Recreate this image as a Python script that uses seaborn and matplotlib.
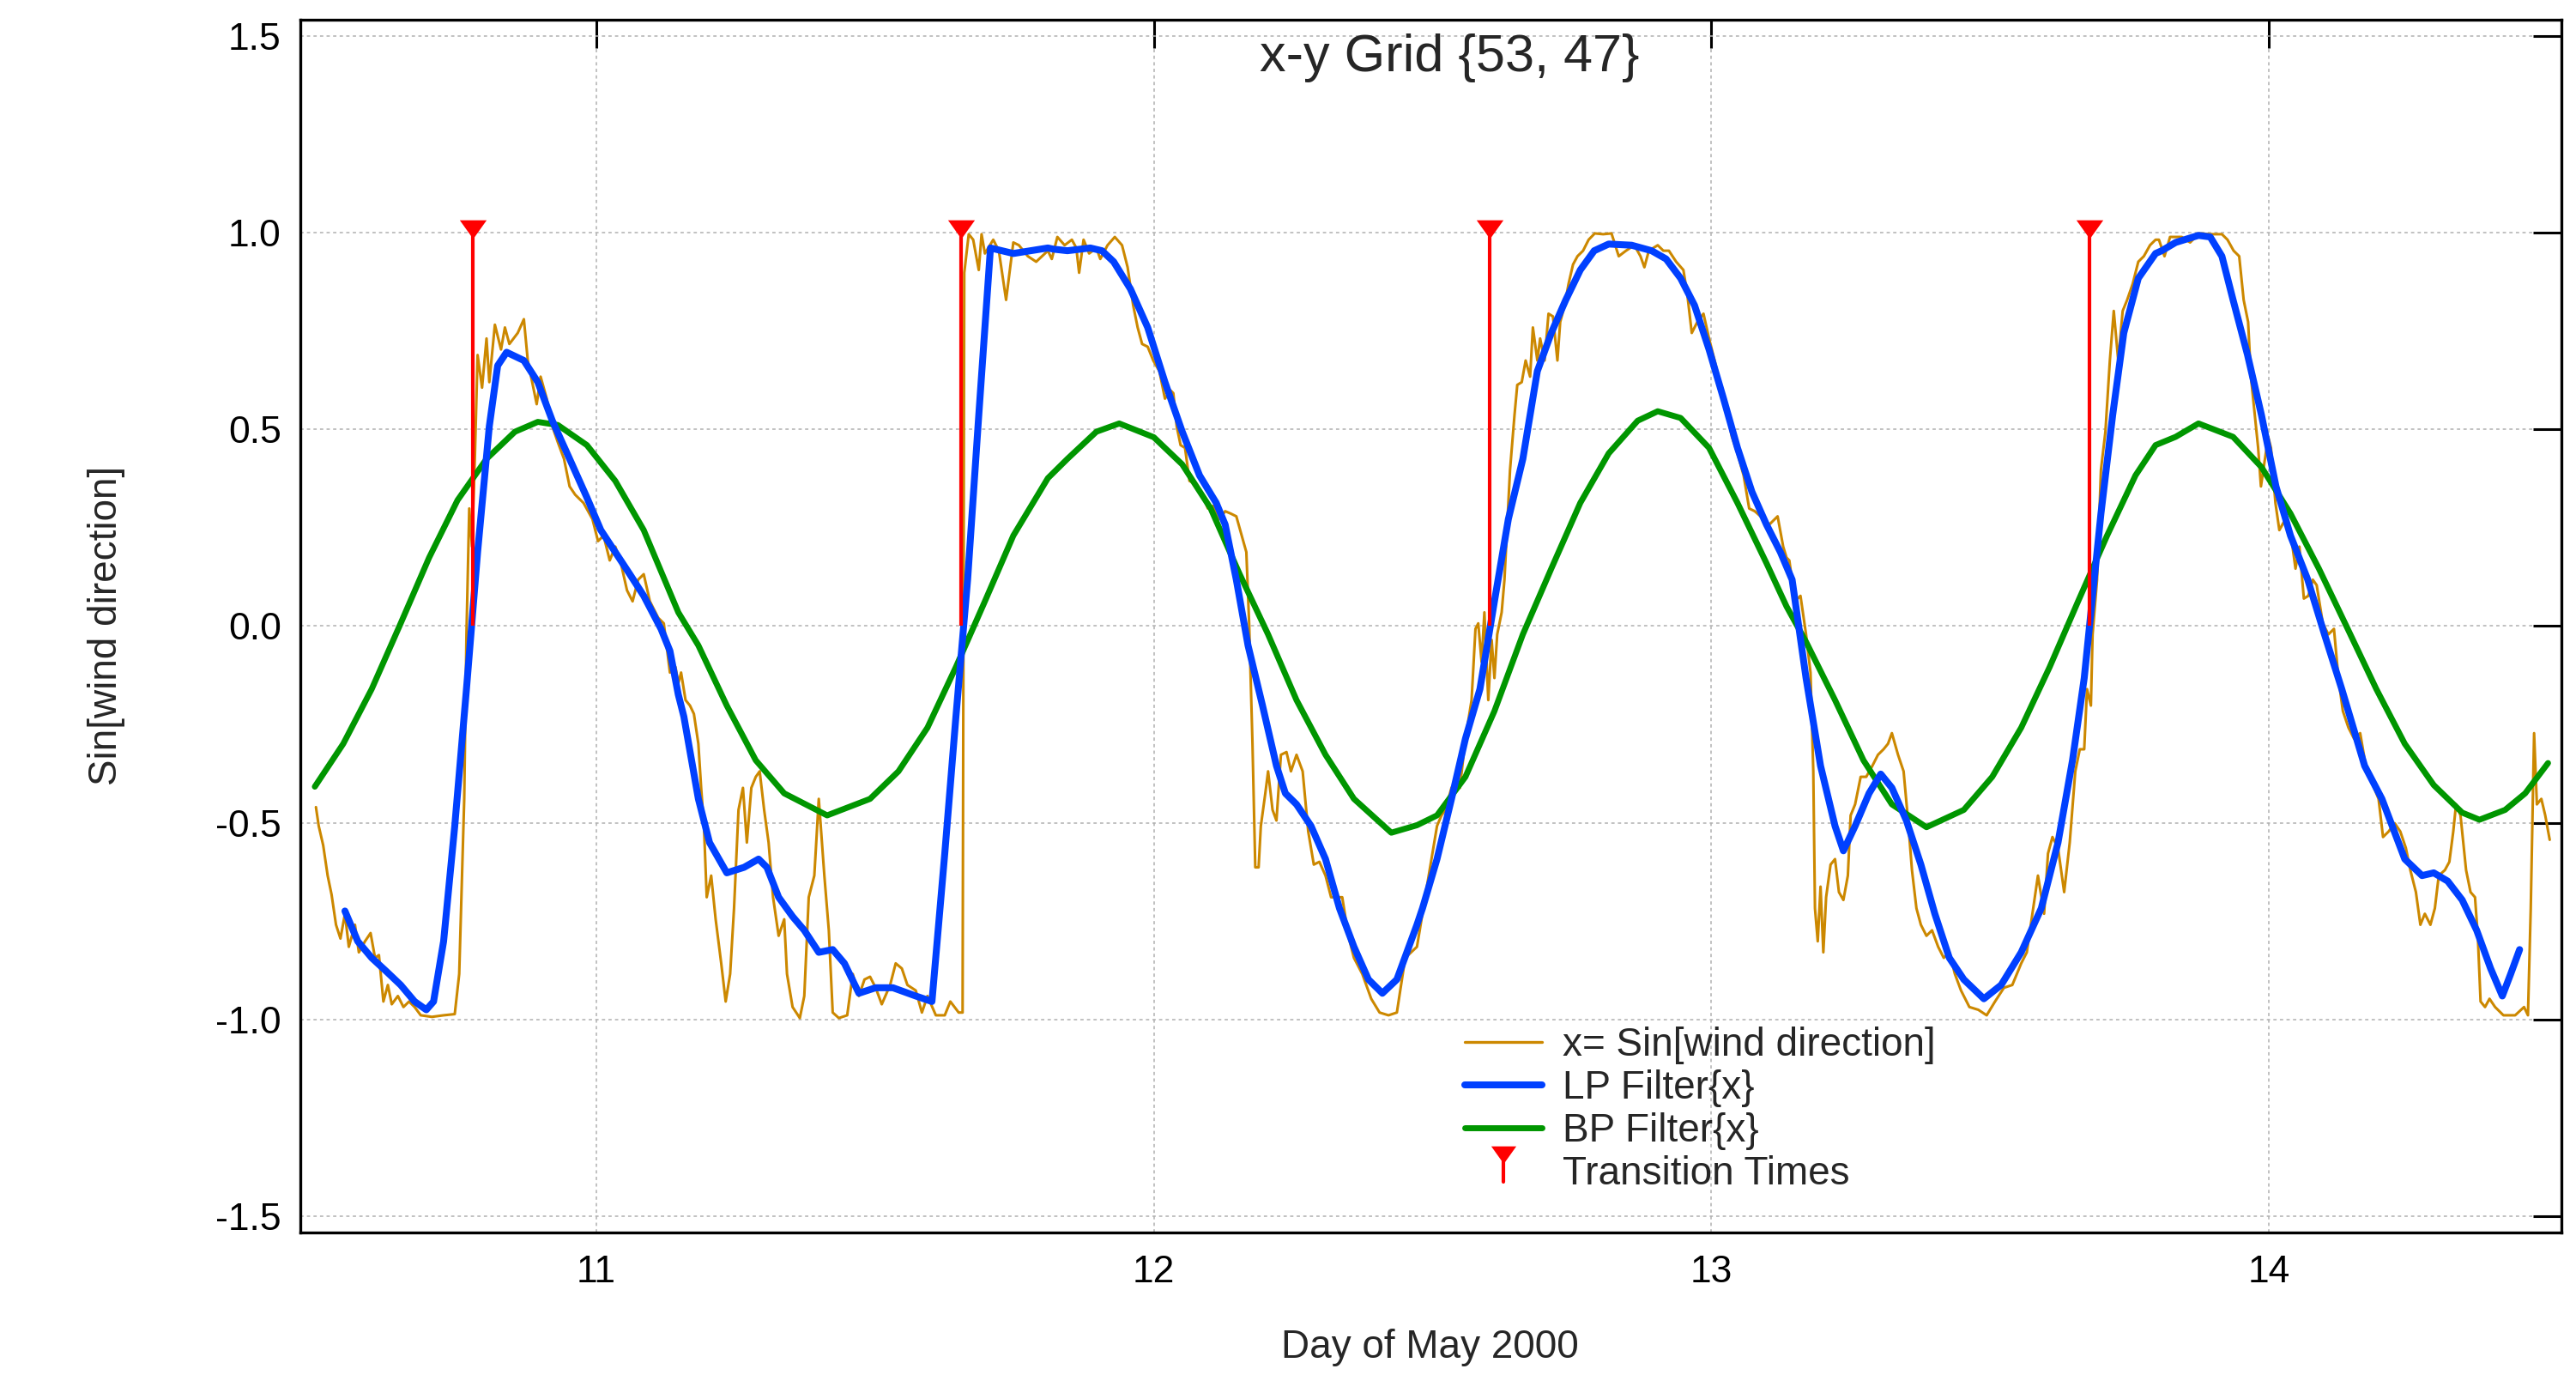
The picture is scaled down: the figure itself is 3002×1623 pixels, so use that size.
import matplotlib
matplotlib.use("Agg")
import matplotlib.pyplot as plt
import seaborn as sns
import numpy as np
import pandas as pd
from matplotlib.lines import Line2D
from matplotlib.legend_handler import HandlerBase

# ---------------- data ----------------
wind_x_points = [
    (10.497,-0.460),(10.502,-0.508),(10.510,-0.557),(10.518,-0.634),(10.525,-0.682),(10.533,-0.759),
    (10.541,-0.794),(10.549,-0.731),(10.556,-0.815),(10.567,-0.759),(10.574,-0.829),(10.585,-0.801),
    (10.595,-0.780),(10.603,-0.843),(10.610,-0.836),(10.618,-0.954),(10.626,-0.912),(10.633,-0.961),
    (10.644,-0.940),(10.654,-0.968),(10.664,-0.954),(10.674,-0.968),(10.685,-0.989),(10.705,-0.993),
    (10.726,-0.989),(10.746,-0.986),(10.754,-0.884),(10.759,-0.634),(10.763,-0.439),(10.767,-0.021),
    (10.772,0.299),(10.777,0.202),(10.782,0.425),(10.787,0.689),(10.795,0.606),(10.803,0.731),
    (10.808,0.620),(10.818,0.766),(10.829,0.703),(10.836,0.759),(10.844,0.717),(10.859,0.745),
    (10.870,0.780),(10.877,0.675),(10.885,0.620),(10.893,0.564),(10.900,0.634),(10.911,0.578),
    (10.921,0.508),(10.931,0.467),(10.942,0.425),(10.952,0.355),(10.962,0.334),(10.977,0.313),
    (10.993,0.272),(11.003,0.216),(11.013,0.230),(11.024,0.167),(11.034,0.202),(11.044,0.160),
    (11.055,0.091),(11.065,0.063),(11.075,0.118),(11.085,0.132),(11.096,0.063),(11.111,0.021),
    (11.121,0.007),(11.132,-0.118),(11.142,-0.104),(11.147,-0.146),
    (11.152,-0.118),(11.160,-0.188),(11.168,-0.202),(11.175,-0.223),(11.183,-0.299),(11.188,-0.411),
    (11.193,-0.508),(11.198,-0.689),(11.206,-0.634),(11.214,-0.745),(11.224,-0.857),(11.232,-0.954),
    (11.240,-0.884),(11.247,-0.717),(11.255,-0.467),(11.263,-0.411),(11.270,-0.550),(11.278,-0.411),
    (11.286,-0.383),(11.293,-0.369),(11.301,-0.467),(11.309,-0.550),(11.317,-0.689),(11.327,-0.787),
    (11.337,-0.745),(11.342,-0.884),(11.352,-0.968),(11.365,-0.996),(11.373,-0.940),(11.381,-0.689),
    (11.391,-0.634),(11.399,-0.439),(11.409,-0.634),(11.417,-0.773),(11.424,-0.982),(11.435,-0.996),
    (11.450,-0.989),(11.460,-0.884),(11.471,-0.940),(11.481,-0.898),(11.491,-0.891),(11.501,-0.919),
    (11.512,-0.961),(11.527,-0.912),(11.537,-0.857),(11.548,-0.870),(11.558,-0.912),(11.573,-0.926),
    (11.584,-0.982),(11.594,-0.940),(11.609,-0.989),(11.625,-0.989),(11.635,-0.954),(11.650,-0.982),
    (11.657,-0.982),(11.660,0.898),(11.668,0.996),(11.676,0.982),(11.686,0.905),(11.691,0.996),
    (11.697,0.947),(11.712,0.982),(11.722,0.954),(11.735,0.829),(11.748,0.975),(11.758,0.968),
    (11.774,0.940),(11.789,0.926),(11.810,0.954),
    (11.817,0.933),(11.827,0.989),(11.840,0.968),(11.853,0.982),(11.861,0.961),(11.866,0.898),
    (11.874,0.982),(11.884,0.947),(11.897,0.961),(11.904,0.933),(11.917,0.968),(11.930,0.989),
    (11.943,0.968),(11.953,0.912),(11.963,0.815),(11.971,0.759),(11.979,0.717),(11.989,0.710),
    (11.999,0.675),(12.010,0.648),(12.020,0.578),(12.030,0.599),(12.035,0.592),(12.041,0.508),
    (12.048,0.460),(12.056,0.453),(12.064,0.369),(12.074,0.362),(12.087,0.334),(12.097,0.299),
    (12.107,0.306),(12.118,0.272),(12.128,0.292),(12.138,0.286),(12.148,0.279),(12.159,0.223),
    (12.166,0.188),(12.171,0.007),(12.177,-0.299),(12.182,-0.613),(12.188,-0.613),(12.192,-0.508),
    (12.200,-0.425),(12.205,-0.369),(12.213,-0.467),(12.220,-0.494),(12.228,-0.327),(12.238,-0.320),
    (12.246,-0.369),(12.256,-0.327),(12.267,-0.369),(12.277,-0.522),(12.287,-0.606),(12.297,-0.599),
    (12.308,-0.634),(12.318,-0.689),(12.328,-0.689),(12.338,-0.689),(12.349,-0.787),(12.359,-0.843),
    (12.374,-0.884),(12.390,-0.947),(12.405,-0.982),(12.421,-0.989),(12.436,-0.982),(12.451,-0.843),
    (12.472,-0.815),
    (12.477,-0.773),(12.485,-0.703),(12.498,-0.592),(12.508,-0.508),(12.516,-0.481),(12.523,-0.467),
    (12.534,-0.411),(12.541,-0.397),(12.549,-0.411),(12.559,-0.286),(12.570,-0.188),(12.577,-0.007),
    (12.582,0.007),(12.588,-0.091),(12.593,0.035),(12.600,-0.188),(12.606,-0.035),(12.611,-0.132),
    (12.616,-0.021),(12.624,0.035),(12.629,0.118),(12.634,0.258),(12.639,0.397),(12.647,0.536),
    (12.652,0.613),(12.660,0.620),(12.667,0.675),(12.675,0.634),(12.680,0.759),(12.688,0.675),
    (12.693,0.731),(12.701,0.675),(12.708,0.794),(12.716,0.787),(12.724,0.675),(12.729,0.773),
    (12.737,0.815),(12.744,0.870),(12.752,0.919),(12.760,0.940),(12.770,0.954),(12.780,0.982),
    (12.791,0.998),(12.806,0.996),(12.821,0.998),(12.834,0.940),(12.847,0.954),(12.862,0.968),
    (12.873,0.940),(12.880,0.912),(12.888,0.954),(12.904,0.968),(12.914,0.954),(12.924,0.954),
    (12.937,0.926),(12.950,0.905),(12.957,0.843),(12.965,0.745),(12.975,0.773),(12.986,0.794),
    (12.996,0.731),(13.006,0.675),(13.017,0.606),(13.027,0.550),(13.037,0.481),(13.047,0.439),
    (13.058,0.383),(13.068,0.299),(13.078,0.292),(13.094,0.272),(13.104,0.258),(13.119,0.279),
    (13.129,0.202),(13.135,0.174),
    (13.140,0.167),(13.150,0.063),(13.160,0.077),(13.170,-0.021),(13.178,-0.118),(13.183,-0.369),
    (13.186,-0.717),(13.191,-0.801),(13.196,-0.662),(13.201,-0.829),(13.206,-0.689),(13.214,-0.606),
    (13.222,-0.592),(13.229,-0.676),(13.237,-0.696),(13.245,-0.634),(13.250,-0.481),(13.258,-0.453),
    (13.268,-0.383),(13.278,-0.383),(13.289,-0.355),(13.299,-0.327),(13.309,-0.313),(13.317,-0.299),
    (13.324,-0.272),(13.335,-0.327),(13.345,-0.369),(13.353,-0.494),(13.360,-0.620),(13.368,-0.717),
    (13.376,-0.759),(13.386,-0.787),(13.396,-0.773),(13.407,-0.815),(13.417,-0.843),(13.427,-0.829),
    (13.437,-0.884),(13.448,-0.926),(13.463,-0.968),(13.479,-0.975),(13.494,-0.989),(13.509,-0.954),
    (13.525,-0.919),(13.540,-0.912),(13.556,-0.857),(13.566,-0.829),(13.576,-0.731),(13.586,-0.634),
    (13.597,-0.731),(13.604,-0.578),(13.612,-0.536),(13.622,-0.564),(13.633,-0.676),(13.643,-0.550),
    (13.653,-0.369),(13.661,-0.313),(13.669,-0.313),(13.674,-0.160),(13.681,-0.202),(13.684,-0.021),
    (13.692,0.118),(13.699,0.397),(13.707,0.494),(13.715,0.675),(13.722,0.801),(13.730,0.675),
    (13.738,0.801),(13.746,0.829),(13.756,0.870),(13.766,0.926),(13.776,0.940),(13.787,0.968),
    (13.797,0.982),
    (13.803,0.982),(13.813,0.940),(13.823,0.989),(13.844,0.989),(13.859,0.975),(13.875,0.998),
    (13.895,0.996),(13.916,0.996),(13.926,0.982),(13.937,0.954),(13.947,0.940),(13.955,0.829),
    (13.963,0.773),(13.968,0.634),(13.973,0.564),(13.981,0.453),(13.986,0.355),(13.991,0.404),
    (13.999,0.481),(14.004,0.453),(14.012,0.313),(14.019,0.244),(14.030,0.272),(14.040,0.230),
    (14.048,0.146),(14.055,0.202),(14.063,0.070),(14.071,0.077),(14.079,0.118),(14.086,0.104),
    (14.097,0.007),(14.107,-0.021),(14.117,-0.007),(14.125,-0.132),(14.133,-0.216),(14.143,-0.258),
    (14.153,-0.286),(14.164,-0.272),(14.174,-0.355),(14.189,-0.411),(14.197,-0.439),(14.205,-0.536),
    (14.215,-0.522),(14.226,-0.501),(14.236,-0.522),(14.246,-0.564),(14.254,-0.620),(14.264,-0.676),
    (14.272,-0.759),(14.280,-0.731),(14.290,-0.759),(14.298,-0.717),(14.305,-0.634),(14.316,-0.620),
    (14.324,-0.599),(14.331,-0.522),(14.336,-0.453),(14.344,-0.481),(14.354,-0.620),(14.362,-0.676),
    (14.370,-0.689),(14.375,-0.787),(14.380,-0.954),(14.388,-0.968),(14.396,-0.947),(14.406,-0.968),
    (14.421,-0.989),(14.442,-0.989),(14.458,-0.968),(14.465,-0.989),(14.470,-0.717),(14.476,-0.272),
    (14.481,-0.453),(14.489,-0.439),(14.496,-0.481),(14.504,-0.543),
]

lp_filter_points = [
    (10.549,-0.724),(10.572,-0.801),(10.597,-0.843),(10.623,-0.877),(10.649,-0.912),(10.674,-0.954),
    (10.695,-0.975),(10.708,-0.954),(10.726,-0.801),(10.746,-0.508),(10.767,-0.160),(10.787,0.188),
    (10.808,0.508),(10.823,0.662),(10.839,0.696),(10.870,0.675),(10.895,0.620),(10.921,0.522),
    (10.952,0.425),(10.983,0.327),(11.008,0.244),(11.034,0.188),(11.060,0.132),(11.085,0.077),
    (11.116,-0.007),(11.132,-0.063),(11.147,-0.174),
    (11.157,-0.230),(11.183,-0.439),(11.203,-0.550),(11.234,-0.627),(11.265,-0.613),(11.291,-0.592),
    (11.306,-0.613),(11.327,-0.689),(11.352,-0.738),(11.373,-0.773),(11.399,-0.829),(11.424,-0.822),
    (11.445,-0.857),(11.471,-0.933),(11.501,-0.919),(11.532,-0.919),(11.573,-0.940),(11.602,-0.954),
    (11.625,-0.578),(11.645,-0.230),(11.666,0.118),(11.686,0.536),(11.707,0.961),(11.748,0.947),
    (11.810,0.961),
    (11.820,0.958),(11.845,0.954),(11.886,0.961),(11.907,0.954),(11.928,0.926),(11.958,0.857),
    (11.989,0.759),(12.020,0.620),(12.051,0.494),(12.082,0.383),(12.112,0.313),(12.128,0.258),
    (12.148,0.118),(12.169,-0.049),(12.195,-0.202),(12.220,-0.355),(12.236,-0.425),(12.256,-0.453),
    (12.282,-0.508),(12.308,-0.592),(12.333,-0.717),(12.359,-0.815),(12.385,-0.898),(12.410,-0.933),
    (12.436,-0.898),(12.472,-0.759),
    (12.482,-0.717),(12.508,-0.592),(12.534,-0.439),(12.559,-0.286),(12.585,-0.160),(12.611,0.063),
    (12.636,0.272),(12.662,0.425),(12.688,0.648),(12.713,0.745),(12.739,0.829),(12.765,0.905),
    (12.790,0.954),(12.816,0.971),(12.857,0.968),(12.893,0.954),(12.919,0.933),(12.945,0.884),
    (12.970,0.815),(12.996,0.703),(13.022,0.578),(13.047,0.453),(13.073,0.341),(13.099,0.258),
    (13.124,0.188),
    (13.145,0.118),(13.170,-0.132),(13.196,-0.355),(13.222,-0.508),(13.237,-0.571),(13.258,-0.508),
    (13.283,-0.425),(13.304,-0.376),(13.324,-0.411),(13.350,-0.494),(13.376,-0.606),(13.401,-0.731),
    (13.427,-0.843),(13.453,-0.898),(13.489,-0.947),(13.520,-0.912),(13.556,-0.829),(13.592,-0.717),
    (13.622,-0.550),(13.648,-0.341),(13.669,-0.132),(13.684,0.077),(13.699,0.286),(13.720,0.536),
    (13.740,0.745),(13.766,0.884),(13.797,0.947),
    (13.808,0.954),(13.833,0.975),(13.874,0.993),(13.895,0.989),(13.916,0.940),(13.936,0.829),
    (13.962,0.689),(13.987,0.536),(14.013,0.355),(14.039,0.230),(14.070,0.118),(14.100,-0.021),
    (14.131,-0.160),(14.172,-0.355),(14.203,-0.439),(14.244,-0.592),(14.275,-0.634),(14.296,-0.627),
    (14.321,-0.648),(14.347,-0.696),(14.373,-0.773),(14.398,-0.870),(14.419,-0.940),(14.434,-0.884),
    (14.450,-0.822),
]

bp_filter_points = [
    (10.495,-0.408),(10.546,-0.299),(10.597,-0.160),(10.649,0.007),(10.700,0.174),(10.751,0.320),
    (10.803,0.425),(10.854,0.494),(10.895,0.519),(10.931,0.511),(10.983,0.460),(11.034,0.369),
    (11.085,0.244),(11.147,0.035),
    (11.183,-0.049),(11.234,-0.202),(11.286,-0.341),(11.337,-0.425),(11.414,-0.481),(11.491,-0.439),
    (11.542,-0.369),(11.594,-0.258),(11.645,-0.104),(11.697,0.063),(11.748,0.230),(11.810,0.376),
    (11.845,0.425),(11.897,0.494),(11.938,0.515),(12.000,0.480),(12.051,0.411),(12.102,0.299),
    (12.154,0.132),(12.205,-0.021),(12.256,-0.188),(12.308,-0.327),(12.359,-0.439),(12.426,-0.525),
    (12.472,-0.506),
    (12.508,-0.481),(12.559,-0.383),(12.611,-0.216),(12.662,-0.021),(12.713,0.146),(12.765,0.313),
    (12.816,0.439),(12.868,0.522),(12.904,0.546),(12.945,0.529),(12.996,0.453),(13.047,0.313),
    (13.099,0.160),(13.135,0.050),
    (13.170,-0.040),(13.222,-0.188),(13.273,-0.341),(13.324,-0.453),(13.386,-0.511),(13.453,-0.467),
    (13.504,-0.383),(13.556,-0.258),(13.607,-0.104),(13.658,0.063),(13.710,0.230),(13.761,0.383),
    (13.797,0.460),
    (13.833,0.481),(13.874,0.515),(13.936,0.481),(13.987,0.404),(14.039,0.286),(14.090,0.146),
    (14.142,-0.008),(14.193,-0.160),(14.244,-0.299),(14.296,-0.404),(14.347,-0.474),(14.378,-0.492),
    (14.424,-0.467),(14.460,-0.425),(14.501,-0.348),
]

transition_days = [10.779, 11.655, 12.602, 13.678]
transition_level = [1.0, 1.0, 1.0, 1.0]

x_ticks = [11, 12, 13, 14]
x_tick_labels = ["11", "12", "13", "14"]
y_ticks = [-1.5, -1.0, -0.5, 0.0, 0.5, 1.0, 1.5]
y_tick_labels = ["-1.5", "-1.0", "-0.5", "0.0", "0.5", "1.0", "1.5"]

series_labels = ["x= Sin[wind direction]", "LP Filter{x}", "BP Filter{x}", "Transition Times"]
title_text = "x-y Grid {53, 47}"
x_label = "Day of May 2000"
y_label = "Sin[wind direction]"

# ---------------- style ----------------
ORANGE = "#CC8800"
BLUE = "#0040FF"
GREEN = "#009600"
RED = "#FF0000"

sns.set_theme(style="white")
plt.rcParams["font.family"] = ["Liberation Sans", "DejaVu Sans"]
plt.rcParams["axes.unicode_minus"] = False

W, H = 3002, 1623
fig = plt.figure(figsize=(W / 100, H / 100), dpi=100)
ax = fig.add_axes([350 / W, 1 - 1436 / H, (2985 - 350) / W, (1436 - 23) / H])


def to_frame(points):
    return pd.DataFrame(points, columns=["day", "value"])


df_x = to_frame(wind_x_points)
df_lp = to_frame(lp_filter_points)
df_bp = to_frame(bp_filter_points)

sns.lineplot(data=df_x, x="day", y="value", ax=ax, color=ORANGE, lw=2.2,
             estimator=None, sort=False, zorder=2)
sns.lineplot(data=df_bp, x="day", y="value", ax=ax, color=GREEN, lw=5.0,
             estimator=None, sort=False, zorder=3)
sns.lineplot(data=df_lp, x="day", y="value", ax=ax, color=BLUE, lw=5.8,
             estimator=None, sort=False, zorder=4)

TRI = [(-1, 0.95), (1, 0.95), (0, -0.45), (-1, 0.95)]
ax.vlines(transition_days, 0, transition_level, color=RED, lw=3.0, zorder=5)
ax.plot(transition_days, transition_level, ls="none", marker=TRI, ms=22.5,
        color=RED, mec=RED, mew=0, zorder=6)

ax.set_xlim(10.469, 14.525)
ax.set_ylim(-1.541, 1.541)
ax.set_xticks(x_ticks)
ax.set_xticklabels(x_tick_labels)
ax.set_yticks(y_ticks)
ax.set_yticklabels(y_tick_labels)
ax.set_xlabel("")
ax.set_ylabel("")

ax.tick_params(axis="both", which="major", direction="in", length=23.8, width=2.2,
               colors="black", labelsize=32, top=True, right=True)
ax.tick_params(axis="x", pad=19)
ax.tick_params(axis="y", pad=16)
for s in ax.spines.values():
    s.set_linewidth(2.4)
    s.set_color("black")
    s.set_visible(True)

ax.grid(True, color="#b0b0b0", lw=1.1, ls=(0, (2.5, 2.5)))
ax.set_axisbelow(True)

fig.text(1689 / W, 1 - 67 / H, title_text, ha="center", va="center", fontsize=44)
fig.text(1666 / W, 1 - 1570 / H, x_label, ha="center", va="center", fontsize=33)
fig.text(124 / W, 1 - 729 / H, y_label, ha="center", va="center", fontsize=33, rotation=90)


class StemHandler(HandlerBase):
    def create_artists(self, legend, orig_handle, xdescent, ydescent, width, height,
                       fontsize, trans):
        cx = 0.5 * width - xdescent
        top = 0.95 * height
        stem = Line2D([cx, cx], [-ydescent + 0.1 * height, top], color=RED, lw=3.0,
                      transform=trans)
        mk = Line2D([cx], [top], ls="none", marker=TRI, ms=21, color=RED, mew=0,
                    transform=trans)
        return [stem, mk]


stem_proxy = Line2D([], [], color=RED)
handles = [
    Line2D([], [], color=ORANGE, lw=2.4),
    Line2D([], [], color=BLUE, lw=5.8),
    Line2D([], [], color=GREEN, lw=5.0),
    stem_proxy,
]
leg = ax.legend(handles, series_labels, loc="upper left",
                bbox_to_anchor=(1707 / W, 1 - 1196 / H), bbox_transform=fig.transFigure,
                frameon=False, borderpad=0, borderaxespad=0, handlelength=1.96,
                handletextpad=0.52, labelspacing=0.13, fontsize=33,
                handler_map={stem_proxy: StemHandler()})

fig.savefig("out.png", dpi=100)
